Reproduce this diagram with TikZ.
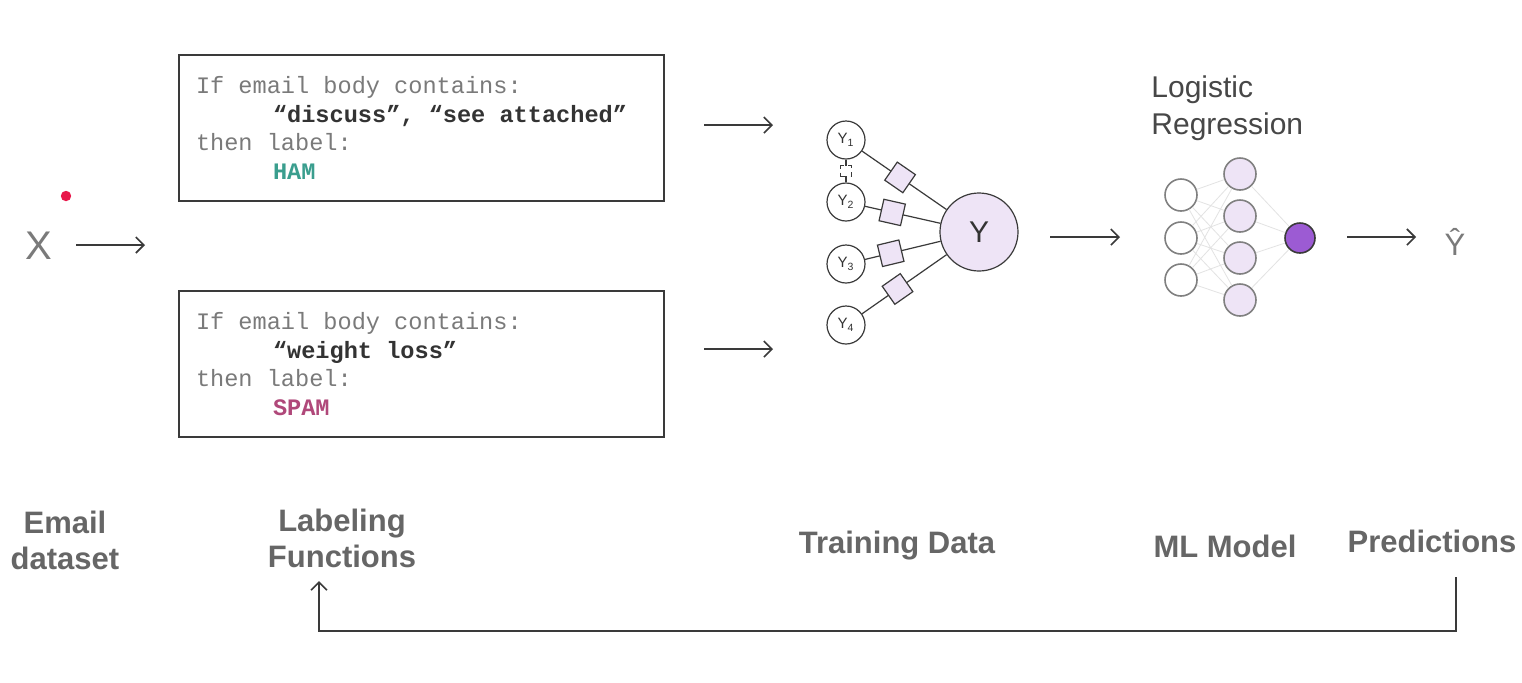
\documentclass[tikz,border=0pt]{standalone}
\usepackage{fontspec}
\setmainfont{Liberation Sans}
\newfontfamily\codefont{Liberation Mono}
\usetikzlibrary{arrows.meta}
\definecolor{lav}{HTML}{EEE4F6}
\definecolor{purp}{HTML}{9C5BD3}
\definecolor{codegray}{HTML}{7A7A7A}
\definecolor{codedark}{HTML}{333333}
\definecolor{hamc}{HTML}{3A9E8E}
\definecolor{spamc}{HTML}{B0487A}
\definecolor{labc}{HTML}{666666}
\definecolor{linec}{HTML}{3A3A3A}
\definecolor{dotc}{HTML}{E8174A}
\newcommand\sk{\makebox[0.6em]{}}
\newcommand\boldcode{\bfseries}
\begin{document}
\begin{tikzpicture}[x=0.5pt,y=-0.5pt,
  conn/.style={draw=linec,line width=0.8pt,-{Straight Barb[length=4pt,width=8pt,line width=0.8pt]}},
  codebox/.style={draw=linec,line width=0.8pt,minimum width=242.5pt,minimum height=73pt,
    text width=225.5pt,inner xsep=8.5pt,align=left,
    font=\codefont\fontsize{11.8}{14.25}\selectfont},
  var/.style={circle,draw=linec,line width=0.6pt,fill=white,minimum size=19pt,inner sep=0pt,
    font=\fontsize{7.5}{8}\selectfont,text=codedark},
  bigvar/.style={circle,draw=linec,line width=0.6pt,fill=lav,minimum size=39pt,inner sep=0pt,
    font=\fontsize{15}{16}\selectfont,text=codedark},
  factor/.style={draw=linec,line width=0.6pt,fill=lav,minimum size=11pt,inner sep=0pt,sloped},
  smallfactor/.style={draw=linec,densely dashed,line width=0.4pt,fill=white,minimum size=5.5pt,inner sep=0pt},
  fedge/.style={draw=linec,line width=0.6pt},
  nnin/.style={circle,draw=gray,line width=0.8pt,fill=white,minimum size=16pt,inner sep=0pt},
  nnhid/.style={circle,draw=gray,line width=0.8pt,fill=lav,minimum size=16pt,inner sep=0pt},
  nnout/.style={circle,draw=linec,line width=0.8pt,fill=purp,minimum size=15pt,inner sep=0pt},
  nnedge/.style={draw=black!11,line width=0.4pt},
  lab/.style={font=\bfseries\fontsize{15.5}{18}\selectfont,text=labc,align=center},
  sym/.style={text=codegray,inner sep=0pt}
]
\useasboundingbox[fill=white] (0,0) rectangle (1522,682);

% X input
\node[sym,anchor=base,font=\fontsize{20}{22}\selectfont] (x) at (39,259) {X};
\fill[dotc] (66,196) circle (2.6pt);
\coordinate (a0s) at (76,245); \coordinate (a0e) at (145,245);
\draw[conn] (a0s) -- (a0e);

% labeling functions
\node[codebox] (lf1) at (421.5,128) {%
{\color{codegray}If\sk email\sk body\sk contains:}\\
\hspace*{38.5pt}{\boldcode\color{codedark}“discuss”,\sk “see\sk attached”}\\
{\color{codegray}then\sk label:}\\
\hspace*{38.5pt}{\boldcode\color{hamc}HAM}};
\node[codebox] (lf2) at (421.5,364) {%
{\color{codegray}If\sk email\sk body\sk contains:}\\
\hspace*{38.5pt}{\boldcode\color{codedark}“weight\sk loss”}\\
{\color{codegray}then\sk label:}\\
\hspace*{38.5pt}{\boldcode\color{spamc}SPAM}};

\coordinate (a1s) at (704,125); \coordinate (a1e) at (773,125);
\coordinate (a2s) at (704,349); \coordinate (a2e) at (773,349);
\draw[conn] (a1s) -- (a1e);
\draw[conn] (a2s) -- (a2e);

% factor graph
\node[var] (y1) at (846,140) {Y\textsubscript{1}};
\node[var] (y2) at (846,202) {Y\textsubscript{2}};
\node[var] (y3) at (846,264) {Y\textsubscript{3}};
\node[var] (y4) at (846,325) {Y\textsubscript{4}};
\node[bigvar] (Y) at (979,232) {Y};
\draw[fedge] (y1) -- (Y) node[factor,pos=0.45] {};
\draw[fedge] (y2) -- (Y) node[factor,pos=0.36] {};
\draw[fedge] (y3) -- (Y) node[factor,pos=0.34] {};
\draw[fedge] (y4) -- (Y) node[factor,pos=0.42] {};
\draw[fedge] (y1) -- (y2) node[smallfactor,midway] {};

\coordinate (a3s) at (1050,237); \coordinate (a3e) at (1120,237);
\draw[conn] (a3s) -- (a3e);

% neural net
\node[anchor=west,align=left,inner sep=0pt,font=\fontsize{15}{18.5}\selectfont,text=codedark!90] (lr) at (1151,108) {Logistic\\Regression};
\foreach \i/\yy in {1/195,2/238,3/280} \node[nnin] (i\i) at (1181,\yy) {};
\foreach \j/\yy in {1/174,2/216,3/258,4/300} \node[nnhid] (h\j) at (1240,\yy) {};
\node[nnout] (o) at (1300,238) {};
\foreach \i in {1,2,3} \foreach \j in {1,2,3,4} \draw[nnedge] (i\i) -- (h\j);
\foreach \j in {1,2,3,4} \draw[nnedge] (h\j) -- (o);

\coordinate (a4s) at (1347,237); \coordinate (a4e) at (1416,237);
\draw[conn] (a4s) -- (a4e);
\node[sym,anchor=base,font=\fontsize{15.5}{17}\selectfont] (yhat) at (1455,255) {Ŷ};

% bottom labels
\node[lab] (ed) at (65,540) {Email\\dataset};
\node[lab] (lfl) at (342,538) {Labeling\\Functions};
\node[lab] (td) at (897,546) {Training Data};
\node[lab] (ml) at (1225,546) {ML Model};
\node[lab] (pred) at (1432,541) {Predictions};

% feedback
\coordinate (fb1) at (1456,577);
\coordinate (fb2) at (319,581);
\draw[conn] (fb1) -- ++(0,54) -| (fb2);
\end{tikzpicture}
\end{document}
